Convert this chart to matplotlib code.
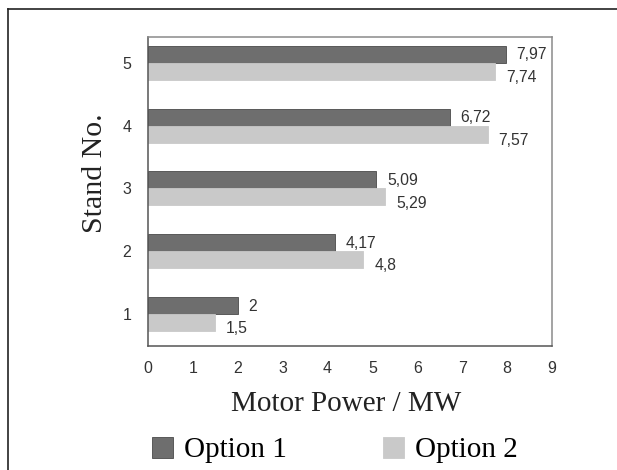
import matplotlib.pyplot as plt
from matplotlib.lines import Line2D
import numpy as np

stands = [1, 2, 3, 4, 5]
option1 = [2, 4.17, 5.09, 6.72, 7.97]
option2 = [1.5, 4.8, 5.29, 7.57, 7.74]
labels1 = ["2", "4,17", "5,09", "6,72", "7,97"]
labels2 = ["1,5", "4,8", "5,29", "7,57", "7,74"]
xticks = list(range(0, 10))

fig = plt.figure(figsize=(6.17, 4.7), dpi=100)
ax = fig.add_axes([148 / 617, 1 - 346 / 470, (552 - 148) / 617, (346 - 37) / 470])

y = np.array(stands)
h = 0.27
dark = "#6e6e6e"
light = "#c9c9c9"
ax.barh(y + h / 2, option1, height=h, color=dark, edgecolor="#4a4a4a", linewidth=0.6, label="Option 1")
ax.barh(y - h / 2, option2, height=h, color=light, edgecolor=light, linewidth=0.6, label="Option 2")

for yi, v, t in zip(y, option1, labels1):
    ax.text(v + 0.24, yi + h / 2 - 0.01, t, va="center", ha="left", fontsize=11.3,
            family="Liberation Sans", color="#333333")
for yi, v, t in zip(y, option2, labels2):
    ax.text(v + 0.24, yi - h / 2 - 0.1, t, va="center", ha="left", fontsize=11.3,
            family="Liberation Sans", color="#333333")

ax.set_xlim(0, 9)
ax.set_ylim(0.49, 5.41)
ax.set_xticks(xticks)
ax.set_yticks(stands)
ax.tick_params(length=0, labelsize=11.5, colors="#333333")
ax.tick_params(axis="x", pad=11)
ax.tick_params(axis="y", pad=12)
for lab in ax.get_xticklabels() + ax.get_yticklabels():
    lab.set_family("Liberation Sans")

for s in ["top", "right"]:
    ax.spines[s].set_color("#8a8a8a")
for s in ["left", "bottom"]:
    ax.spines[s].set_color("#555555")
for s in ax.spines.values():
    s.set_linewidth(1.1)

ax.set_xlabel("Motor Power / MW", family="Liberation Serif", fontsize=21, color="#222222")
ax.set_ylabel("Stand No.", family="Liberation Serif", fontsize=21.5, color="#222222")
ax.xaxis.set_label_coords(0.49, -0.145)
ax.yaxis.set_label_coords(-0.098, 0.56)

handles, leg_labels = ax.get_legend_handles_labels()
leg = fig.legend(handles, leg_labels, loc="center", bbox_to_anchor=(335 / 617, 1 - 450 / 470),
                 ncol=2, frameon=False, prop={"family": "Liberation Serif", "size": 21},
                 handlelength=0.72, handleheight=0.72, columnspacing=3.3, handletextpad=0.38,
                 borderpad=0.2)

fig.add_artist(Line2D([8 / 617, 8 / 617], [0, 1 - 9 / 470], transform=fig.transFigure, color="#222222", lw=1.2))
fig.add_artist(Line2D([8 / 617, 1], [1 - 9 / 470, 1 - 9 / 470], transform=fig.transFigure, color="#222222", lw=1.2))

fig.savefig("out.png", dpi=100)
